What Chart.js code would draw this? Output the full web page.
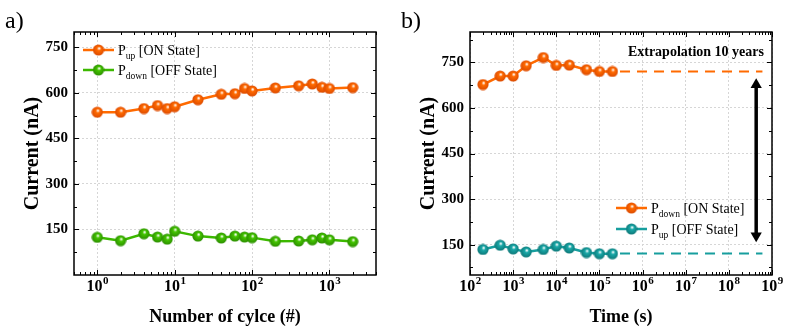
<!DOCTYPE html>
<html>
<head>
<meta charset="utf-8">
<script src="https://cdn.jsdelivr.net/npm/chart.js@4.4.0/dist/chart.umd.min.js"></script>
<style>
  body { margin: 0; background: #fff; }
  canvas { position: absolute; top: 0; }
</style>
</head>
<body>
<canvas id="chart-a" width="394" height="333" style="left:0"></canvas>
<canvas id="chart-b" width="395" height="333" style="left:394px"></canvas>
<script>
// a) cycling endurance
const cycles = [1, 2, 4, 6, 8, 10, 20, 40, 60, 80, 100, 200, 400, 600, 800, 1000, 2000];
const cycleOn = [536, 536, 548, 558, 548, 554, 577, 595, 597, 614, 606, 616, 623, 629, 618, 614, 617];
const cycleOff = [124, 113, 136, 125, 118, 144, 128, 122, 128, 125, 123, 111, 112, 116, 122, 116, 110];

// b) retention
const times = [200, 500, 1e3, 2e3, 5e3, 1e4, 2e4, 5e4, 1e5, 2e5];
const retOn = [677, 705, 705, 739, 766, 740, 741, 726, 720, 720];
const retOff = [134, 148, 136, 126, 134, 145, 139, 124, 120, 120];
const extrapTimes = [3e5, 6e8];
const extrapOn = [720, 720];
const extrapOff = [121, 121];
const arrowTimes = [4.3e8, 4.3e8];
const arrowSpan = [676, 179];

const currentTicks = [150, 300, 450, 600, 750];
const cycleTicks = [1, 10, 100, 1000];
const timeTicks = [1e2, 1e3, 1e4, 1e5, 1e6, 1e7, 1e8, 1e9];

const legendA = [['P', 'up', ' [ON State]'], ['P', 'down', ' [OFF State]']];
const legendB = [['P', 'down', ' [ON State]'], ['P', 'up', ' [OFF State]']];

const ORANGE = '#ff6a00', GREEN = '#3cb800', TEAL = '#179e9e';
const SERIF = '"Liberation Serif", "Times New Roman", serif';

function sphere(color, dark) {
    const c = document.createElement('canvas');
    c.width = c.height = 12;
    const g = c.getContext('2d');
    const grad = g.createRadialGradient(6.8, 4.2, 0.3, 6, 6, 6);
    grad.addColorStop(0, '#ffffff');
    grad.addColorStop(0.3, color);
    grad.addColorStop(1, dark);
    g.fillStyle = grad;
    g.beginPath();
    g.arc(6, 6, 5.6, 0, Math.PI * 2);
    g.fill();
    return c;
}
const ballOrange = sphere('#ff6a00', '#d94800');
const ballGreen = sphere('#44c400', '#2a8a00');
const ballTeal = sphere('#1aa8a8', '#0c7474');

const toPoints = (xs, ys) => xs.map((x, i) => ({ x, y: ys[i] }));

// frame with inward ticks on all sides, plus 10^n tick labels
const framePlugin = {
    id: 'frame',
    afterDatasetsDraw(chart) {
        const { ctx, chartArea: a, scales: { x, y } } = chart;
        ctx.save();
        ctx.strokeStyle = '#000';
        ctx.lineWidth = 1;
        ctx.beginPath();
        const lo = Math.floor(Math.log10(x.min)), hi = Math.ceil(Math.log10(x.max));
        for (let e = lo; e <= hi; e++) {
            for (let m = 1; m < 10; m++) {
                const v = m * Math.pow(10, e);
                if (v < x.min * 0.999 || v > x.max * 1.001) continue;
                const px = Math.round(x.getPixelForValue(v)) + 0.5;
                const len = m === 1 ? 5 : 3;
                ctx.moveTo(px, a.bottom); ctx.lineTo(px, a.bottom - len);
                ctx.moveTo(px, a.top); ctx.lineTo(px, a.top + len);
            }
        }
        for (let v = 75; v < y.max; v += 75) {
            if (v < y.min) continue;
            const py = Math.round(y.getPixelForValue(v)) + 0.5;
            const len = v % 150 === 0 ? 5 : 3;
            ctx.moveTo(a.left, py); ctx.lineTo(a.left + len, py);
            ctx.moveTo(a.right, py); ctx.lineTo(a.right - len, py);
        }
        ctx.stroke();
        ctx.lineWidth = 1.5;
        ctx.strokeRect(a.left, a.top, a.right - a.left, a.bottom - a.top);

        // x tick labels as 10 with a raised exponent
        ctx.fillStyle = '#000';
        ctx.textBaseline = 'alphabetic';
        x.ticks.forEach(t => {
            const exp = String(Math.round(Math.log10(t.value)));
            ctx.font = 'bold 16px ' + SERIF;
            const wb = ctx.measureText('10').width;
            ctx.font = 'bold 11px ' + SERIF;
            const we = ctx.measureText(exp).width;
            const left = x.getPixelForValue(t.value) - (wb + we) / 2;
            ctx.font = 'bold 16px ' + SERIF;
            ctx.fillText('10', left, 291);
            ctx.font = 'bold 11px ' + SERIF;
            ctx.fillText(exp, left + wb + 0.5, 284);
        });
        ctx.restore();
    }
};

// legend with subscripts, panel label and notes
const notesPlugin = {
    id: 'notes',
    afterDraw(chart, args, opts) {
        const ctx = chart.ctx;
        ctx.save();
        ctx.fillStyle = '#000';
        ctx.textBaseline = 'alphabetic';
        ctx.font = '24px ' + SERIF;
        ctx.fillText(opts.panel, opts.panelX, 28);
        opts.items.forEach((it, i) => {
            const ly = opts.y + i * opts.gap;
            ctx.strokeStyle = opts.colors[i];
            ctx.lineWidth = 2.5;
            ctx.beginPath();
            ctx.moveTo(opts.x, ly); ctx.lineTo(opts.x + 31, ly);
            ctx.stroke();
            ctx.drawImage(opts.balls[i], opts.x + 9.5, ly - 6);
            let tx = opts.x + 35;
            ctx.fillStyle = '#000';
            ctx.font = '14px ' + SERIF;
            ctx.fillText(it[0], tx, ly + 5);
            tx += ctx.measureText(it[0]).width;
            ctx.font = '9.5px ' + SERIF;
            ctx.fillText(it[1], tx, ly + 8.5);
            tx += ctx.measureText(it[1]).width;
            ctx.font = '14px ' + SERIF;
            ctx.fillText(it[2], tx, ly + 5);
        });
        if (opts.note) {
            ctx.font = 'bold 14px ' + SERIF;
            ctx.textAlign = 'right';
            ctx.fillText(opts.note, opts.noteX, 56);
        }
        ctx.restore();
    }
};

function makeOptions(xTitle, xMin, xMax, xTicks, yMin, yMax, notes) {
    return {
        responsive: false,
        animation: false,
        devicePixelRatio: 1,
        layout: { padding: { top: 32, right: notes.padRight, left: 0, bottom: 0 } },
        plugins: { legend: { display: false }, tooltip: { enabled: false }, notes },
        scales: {
            x: {
                type: 'logarithmic',
                min: xMin, max: xMax,
                afterBuildTicks: s => { s.ticks = xTicks.map(v => ({ value: v })); },
                afterFit: s => { s.height = 58; },
                grid: { color: '#d6d6d6', lineWidth: 1, drawTicks: false },
                border: { display: false, dash: [2, 2] },
                ticks: { display: false },
                title: {
                    display: true, text: xTitle, color: '#000',
                    font: { family: SERIF, size: 18, weight: 'bold' },
                    padding: { top: 0, bottom: 5 }
                }
            },
            y: {
                min: yMin, max: yMax,
                afterBuildTicks: s => { s.ticks = currentTicks.map(v => ({ value: v })); },
                afterFit: s => { s.width = notes.yWidth; },
                grid: { color: '#d6d6d6', lineWidth: 1, drawTicks: false },
                border: { display: false, dash: [2, 2] },
                ticks: {
                    padding: 6,
                    color: '#000',
                    font: { family: SERIF, size: 15, weight: 'bold' }
                },
                title: {
                    display: true, text: 'Current (nA)', color: '#000',
                    font: { family: SERIF, size: 20, weight: 'bold' },
                    padding: { top: notes.titlePad, bottom: 0 }
                }
            }
        }
    };
}

const series = (data, color, ball) => ({
    data, borderColor: color, borderWidth: 2.5,
    pointStyle: ball, pointRadius: 6, pointHoverRadius: 6, tension: 0
});
const dashed = (data, color) => ({
    data, borderColor: color, borderWidth: 2, borderDash: [10, 7], pointRadius: 0, tension: 0
});

new Chart(document.getElementById('chart-a'), {
    type: 'line',
    data: {
        datasets: [
            series(toPoints(cycles, cycleOn), ORANGE, ballOrange),
            series(toPoints(cycles, cycleOff), GREEN, ballGreen)
        ]
    },
    options: makeOptions('Number of cylce (#)', 0.5, 4000, cycleTicks, 0, 800, {
        panel: 'a)', panelX: 5, items: legendA, colors: [ORANGE, GREEN],
        balls: [ballOrange, ballGreen], x: 83, y: 50, gap: 20,
        padRight: 18, yWidth: 74, titlePad: 21
    }),
    plugins: [framePlugin, notesPlugin]
});

new Chart(document.getElementById('chart-b'), {
    type: 'line',
    data: {
        datasets: [
            dashed(toPoints(extrapTimes, extrapOn), ORANGE),
            dashed(toPoints(extrapTimes, extrapOff), TEAL),
            series(toPoints(times, retOn), ORANGE, ballOrange),
            series(toPoints(times, retOff), TEAL, ballTeal),
            {
                data: toPoints(arrowTimes, arrowSpan), borderColor: '#000', borderWidth: 3.5,
                pointStyle: 'triangle', pointRotation: [0, 180], pointRadius: 6.5,
                pointBackgroundColor: '#000', pointBorderColor: '#000', pointBorderWidth: 0
            }
        ]
    },
    options: makeOptions('Time (s)', 1e2, 1e9, timeTicks, 50, 850, {
        panel: 'b)', panelX: 7, items: legendB, colors: [ORANGE, TEAL],
        balls: [ballOrange, ballTeal], x: 222, y: 208, gap: 21,
        note: 'Extrapolation 10 years', noteX: 370,
        padRight: 17, yWidth: 76, titlePad: 23
    }),
    plugins: [framePlugin, notesPlugin]
});
</script>
</body>
</html>
